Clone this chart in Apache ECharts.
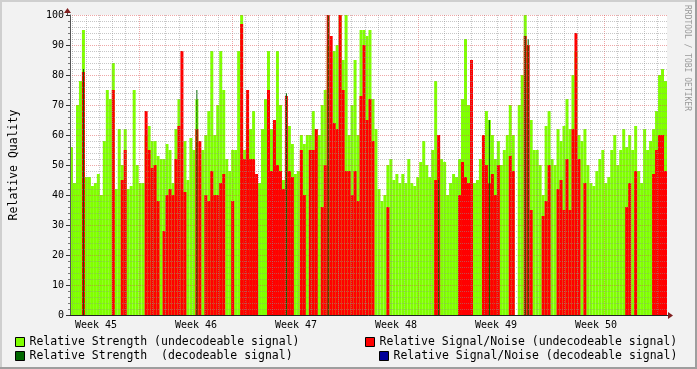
<!DOCTYPE html>
<html><head><meta charset="utf-8">
<script src="https://cdn.jsdelivr.net/npm/echarts@6/dist/echarts.min.js"></script>
<style>html,body{margin:0;padding:0;background:#f2f2f2}#c{width:697px;height:369px}</style>
</head><body><div id="c"></div>
<script>
// one bin = 1/200 of the 6-week window
const strengthUndecodeable = [
56,44,70,78,95,46,46,43,44,47, 40,58,75,72,84,42,62,50,62,42,
43,75,50,44,44,60,63,58,58,53, 52,52,57,55,44,62,72,42,58,45,
59,55,72,50,55,60,68,88,60,70, 88,75,52,48,55,55,88,100,55,66,
62,68,44,44,62,72,88,62,58,88, 70,45,58,63,57,47,48,60,57,60,
60,68,62,60,70,75,90,55,88,90, 100,85,100,60,70,85,60,95,95,93,
95,72,62,42,38,40,50,52,45,47, 44,47,44,52,44,43,46,51,58,50,
46,55,78,55,52,51,40,44,47,46, 52,72,92,70,70,44,45,52,60,68,
65,60,52,58,50,55,60,70,60,0, 70,80,100,0,65,55,55,50,40,63,
68,52,50,62,58,63,72,62,80,88, 60,58,62,50,44,43,48,52,55,44,
46,55,60,50,55,62,56,60,55,63, 48,44,62,55,58,62,68,80,82,78
];
const snrUndecodeable = [
0,0,0,0,81,0,0,0,0,0, 0,0,0,0,75,0,0,45,55,0,
0,0,0,0,0,68,55,49,50,38, 0,28,40,42,40,52,63,88,41,0,
0,0,62,58,0,40,38,48,40,40, 44,47,0,0,38,0,0,97,52,75,
52,52,47,0,0,0,75,48,65,50, 48,42,73,48,46,0,0,55,40,0,
55,55,62,0,36,50,100,93,64,62, 100,75,48,48,40,48,38,73,90,65,
72,58,0,0,0,0,36,0,0,0, 0,0,0,0,0,0,0,0,0,0,
0,0,45,60,0,0,0,0,0,0, 40,51,46,44,85,0,0,0,60,50,
44,47,40,50,0,0,0,53,48,0, 0,0,93,90,35,0,0,0,33,38,
50,0,0,42,45,35,52,35,62,94, 52,0,44,0,0,0,0,0,0,0,
0,0,0,0,0,0,36,44,0,48, 0,0,0,0,0,47,55,60,60,48
];
const strengthDecodeable = [
0,0,0,0,82,0,0,0,0,0, 0,0,0,0,0,0,0,0,0,0,
0,0,0,0,0,0,0,0,0,0, 0,0,0,0,0,0,0,0,0,0,
0,0,75,0,0,0,0,0,0,0, 0,0,0,0,0,0,0,0,0,0,
0,0,0,0,0,0,0,0,0,0, 0,0,74,0,0,0,0,0,0,0,
0,0,0,0,0,0,100,0,0,0, 0,0,0,0,0,0,0,0,0,0,
0,0,0,0,0,0,0,0,0,0, 0,0,0,0,0,0,0,0,0,0,
0,0,0,45,0,0,0,0,0,0, 0,0,0,0,0,0,0,0,0,0,
65,0,0,0,0,0,0,0,0,0, 0,0,93,92,0,0,0,0,0,0,
0,0,0,0,0,0,0,0,0,0, 0,0,0,0,0,0,0,0,0,0,
0,0,0,0,0,0,0,0,0,0, 0,0,0,0,0,0,0,0,0,0
];
const snrDecodeable = [];
const weekLabels = ['Week 45','Week 46','Week 47','Week 48','Week 49','Week 50'];
const seriesNames = [
  'Relative Strength (undecodeable signal)',
  'Relative Signal/Noise (undecodeable signal)',
  'Relative Strength  (decodeable signal)',
  'Relative Signal/Noise (decodeable signal)'
];
const bins = strengthUndecodeable.map((_, i) => String(i));

const FONT = 'DejaVu Sans Mono';
const BG = '#f2f2f2';
const minorGrid = 'rgba(143,143,143,0.5)';
const majorGrid = 'rgba(222,79,79,0.5)';
const chart = echarts.init(document.getElementById('c'), null, {renderer: 'canvas'});
const legendCommon = {
  orient: 'horizontal', icon: 'rect', itemWidth: 9, itemHeight: 9, itemGap: 0, padding: 0,
  selectedMode: false,
  textStyle: {fontFamily: FONT, fontSize: 11.5, color: '#000'},
  itemStyle: {borderColor: '#000', borderWidth: 1}
};
chart.setOption({
  animation: false,
  backgroundColor: BG,
  grid: [
    {left: 67, top: 15, width: 600, height: 300, show: true, backgroundColor: '#fff', borderWidth: 0},
    // time grid: starts on a week boundary left of the plot, 7 weeks wide (days)
    {left: 46, top: 15, width: 700, height: 300, show: false},
    // week labels: one band per week
    {left: 46, top: 15, width: 600, height: 300, show: false}
  ],
  legend: [
    Object.assign({data: [seriesNames[0]], left: 15, top: 336}, legendCommon),
    Object.assign({data: [seriesNames[2]], left: 15, top: 350}, legendCommon),
    Object.assign({data: [seriesNames[1]], left: 365, top: 336}, legendCommon),
    Object.assign({data: [seriesNames[3]], left: 379, top: 350}, legendCommon)
  ],
  xAxis: [
    {gridIndex: 0, type: 'category', data: bins, position: 'bottom', boundaryGap: true, z: 6,
     axisLine: {show: true, lineStyle: {color: '#222', width: 1}}, axisTick: {show: false},
     axisLabel: {show: false}, splitLine: {show: false}},
    {gridIndex: 0, type: 'category', data: bins, position: 'bottom', boundaryGap: true, show: false},
    {gridIndex: 1, type: 'value', position: 'bottom', min: 0, max: 49, interval: 7, z: 3,
     axisLine: {show: false}, axisTick: {show: false}, axisLabel: {show: false},
     splitLine: {show: true, lineStyle: {color: majorGrid, type: [1, 1], width: 1}},
     minorTick: {show: false, splitNumber: 7},
     minorSplitLine: {show: true, lineStyle: {color: minorGrid, type: [1, 1], width: 1}}},
    {gridIndex: 2, type: 'category', data: weekLabels, position: 'bottom', boundaryGap: true, z: 6,
     axisLine: {show: false}, axisTick: {show: false}, splitLine: {show: false},
     axisLabel: {show: true, interval: 0, margin: 5, fontFamily: FONT, fontSize: 10, color: '#000'}}
  ],
  yAxis: [
    {gridIndex: 0, type: 'value', min: 0, max: 100, interval: 10, z: 5,
     name: 'Relative Quality', nameLocation: 'middle', nameGap: 50,
     nameTextStyle: {fontFamily: FONT, fontSize: 11.5, color: '#000'},
     axisLine: {show: true, lineStyle: {color: '#555', width: 1}},
     axisTick: {show: true, length: 4, lineStyle: {color: '#333'}},
     minorTick: {show: true, splitNumber: 5, length: 2, lineStyle: {color: '#777'}},
     axisLabel: {fontFamily: FONT, fontSize: 10, color: '#000', margin: 6},
     splitLine: {show: true, lineStyle: {color: majorGrid, type: [1, 1], width: 1}},
     minorSplitLine: {show: true, lineStyle: {color: minorGrid, type: [1, 1], width: 1}}},
    {gridIndex: 1, type: 'value', min: 0, max: 100, show: false},
    {gridIndex: 2, type: 'value', min: 0, max: 100, show: false}
  ],
  series: [
    {name: seriesNames[0], type: 'bar', xAxisIndex: 0, yAxisIndex: 0, data: strengthUndecodeable, barCategoryGap: '0%', barGap: '-100%',
     itemStyle: {color: '#80ff00'}, z: 2, silent: true},
    {name: seriesNames[1], type: 'bar', xAxisIndex: 0, yAxisIndex: 0, data: snrUndecodeable, barCategoryGap: '0%', barGap: '-100%',
     itemStyle: {color: '#ff0000'}, z: 2, silent: true},
    {name: seriesNames[2], type: 'bar', xAxisIndex: 1, yAxisIndex: 0, data: strengthDecodeable, barWidth: 1,
     itemStyle: {color: '#006600'}, z: 2, silent: true},
    {name: seriesNames[3], type: 'bar', xAxisIndex: 0, yAxisIndex: 0, data: snrDecodeable, barCategoryGap: '0%', barGap: '-100%',
     itemStyle: {color: '#000099'}, z: 2, silent: true},
    {name: 'timeGrid', type: 'line', xAxisIndex: 2, yAxisIndex: 1, data: [], silent: true},
    {name: 'weekBands', type: 'line', xAxisIndex: 3, yAxisIndex: 2, data: [], silent: true}
  ],
  graphic: [
    // masks so the time grid only shows inside the plot
    {type: 'rect', z: 4, shape: {x: 0, y: 13, width: 66.5, height: 304}, style: {fill: BG}, silent: true},
    {type: 'rect', z: 4, shape: {x: 667.5, y: 13, width: 30, height: 304}, style: {fill: BG}, silent: true},
    {type: 'rect', z: 10, shape: {x: 0, y: 0, width: 697, height: 2}, style: {fill: '#cfcfcf'}, silent: true},
    {type: 'rect', z: 10, shape: {x: 0, y: 0, width: 2, height: 369}, style: {fill: '#cfcfcf'}, silent: true},
    {type: 'rect', z: 10, shape: {x: 0, y: 367, width: 697, height: 2}, style: {fill: '#9e9e9e'}, silent: true},
    {type: 'rect', z: 10, shape: {x: 695, y: 0, width: 2, height: 369}, style: {fill: '#9e9e9e'}, silent: true},
    {type: 'line', z: 10, shape: {x1: 67.5, y1: 9, x2: 67.5, y2: 15}, style: {stroke: '#555', lineWidth: 1}, silent: true},
    {type: 'polygon', z: 10, shape: {points: [[64, 13], [71, 13], [67.5, 8]]}, style: {fill: '#801f1f'}, silent: true},
    {type: 'line', z: 10, shape: {x1: 667, y1: 315.5, x2: 672, y2: 315.5}, style: {stroke: '#222', lineWidth: 1}, silent: true},
    {type: 'polygon', z: 10, shape: {points: [[668, 312], [668, 319], [673, 315.5]]}, style: {fill: '#801f1f'}, silent: true},
    {type: 'text', z: 10, x: 687, y: 5, rotation: -Math.PI / 2, silent: true,
     style: {text: 'RRDTOOL / TOBI OETIKER', fill: '#9a9a9a', fontFamily: FONT, fontSize: 8, align: 'left', verticalAlign: 'middle'}}
  ]
});
</script></body></html>
